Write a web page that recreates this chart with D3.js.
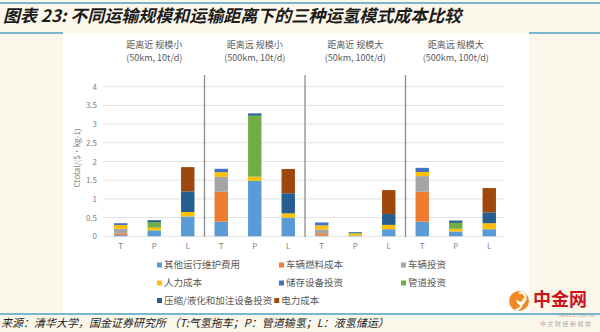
<!DOCTYPE html>
<html><head><meta charset="utf-8">
<script src="https://cdn.jsdelivr.net/npm/d3@7"></script>
<style>
html,body{margin:0;padding:0;background:#fbf7ea;}
svg{display:block;}
text{font-family:"Noto Sans CJK SC","Noto Sans",sans-serif;}
</style></head><body>
<svg id="c" width="600" height="332"></svg>
<script>
// ---------- data ----------
const categories = ["T","P","L","T","P","L","T","P","L","T","P","L"];
const groupTitles = ["距离近 规模小","距离远 规模小","距离近 规模大","距离远 规模大"];
const groupSubs = ["(50km, 10t/d)","(500km, 10t/d)","(50km, 100t/d)","(500km, 100t/d)"];
const seriesNames = ["其他运行维护费用","车辆燃料成本","车辆投资","人力成本","储存设备投资","管道投资","压缩/液化和加注设备投资","电力成本"];
const maintenance = [0.03,0.16,0.53, 0.39,1.48,0.50, 0.02,0.02,0.19, 0.39,0.13,0.19];
const fuel        = [0.05,0,0,       0.80,0,0,       0.06,0,0,       0.80,0,0];
const vehicle     = [0.12,0,0,       0.40,0,0,       0.10,0,0,       0.42,0,0];
const labor       = [0.10,0.07,0.12, 0.125,0.115,0.115, 0.11,0.05,0.115, 0.11,0.07,0.16];
const storage     = [0.05,0,0,       0.09,0,0,       0.08,0,0,       0.11,0,0];
const pipeline    = [0,0.15,0,       0,1.63,0,       0,0.02,0,       0,0.16,0];
const compression = [0,0.05,0.55,    0,0.06,0.535,   0,0.02,0.29,    0,0.06,0.29];
const power       = [0,0,0.65,       0,0,0.65,       0,0,0.64,       0,0,0.65];
const yTicks = [0,0.5,1,1.5,2,2.5,3,3.5,4];
const yTitle = "Ctotal/($·kg-1)";
const chartTitle = "图表 23: 不同运输规模和运输距离下的三种运氢模式成本比较";
const sourceNote = "来源：清华大学，国金证券研究所 （T:气氢拖车；P：管道输氢；L：液氢储运）";

// ---------- style ----------
const palette = ["#5b9bd5","#ed7d31","#a5a5a5","#ffc000","#4472c4","#70ad47","#255e91","#9e480e"];
const seriesValues = [maintenance,fuel,vehicle,labor,storage,pipeline,compression,power];

const svg = d3.select("#c");

// background panel
svg.append("rect").attr("x",63).attr("y",34).attr("width",466).attr("height",279).attr("fill","#ffffff");
// decorative lines
svg.append("line").attr("x1",0).attr("x2",600).attr("y1",3).attr("y2",3).attr("stroke","#4ba3c7").attr("stroke-width",1.6);
svg.append("line").attr("x1",0).attr("x2",63).attr("y1",33).attr("y2",33).attr("stroke","#4ba3c7").attr("stroke-width",1.6);
svg.append("line").attr("x1",529).attr("x2",600).attr("y1",33).attr("y2",33).attr("stroke","#4ba3c7").attr("stroke-width",1.6);
svg.append("line").attr("x1",0).attr("x2",600).attr("y1",314).attr("y2",314).attr("stroke","#4ba3c7").attr("stroke-width",1.6);

// title
svg.append("text").attr("x",3).attr("y",22).attr("font-size",17).attr("font-style","italic")
  .attr("font-weight","bold").attr("fill","#1c1c1c").text(chartTitle);

// scales
const keys = categories.map((c,i)=>i+c);
const x = d3.scaleBand().domain(keys).range([104,506]).paddingInner(0.6).paddingOuter(0.3);
const y = d3.scaleLinear().domain([0,4]).range([236.3,86.7]);

// grid
svg.append("g").selectAll("line").data(yTicks).join("line")
  .attr("x1",103).attr("x2",504).attr("y1",d=>y(d)).attr("y2",d=>y(d))
  .attr("stroke","#d9d9d9").attr("stroke-width",0.8);

// y axis
const yAxis = svg.append("g").attr("transform","translate(103,0)")
  .call(d3.axisLeft(y).tickValues(yTicks).tickSize(0).tickPadding(6).tickFormat(d3.format("")));
yAxis.select(".domain").remove();
yAxis.selectAll("text").attr("font-size",8).attr("fill","#7f7f7f").attr("font-family","'Noto Sans',sans-serif");

svg.append("text").attr("transform","translate(80,158) rotate(-90)").attr("text-anchor","middle")
  .attr("font-size",8).attr("fill","#7f7f7f").attr("font-family","'Noto Sans',sans-serif").text(yTitle);

// x axis
const xAxis = svg.append("g").attr("transform","translate(0,238)")
  .call(d3.axisBottom(x).tickSize(0).tickPadding(5).tickFormat((d,i)=>categories[i]));
xAxis.select(".domain").remove();
xAxis.selectAll("text").attr("font-size",8).attr("fill","#7f7f7f").attr("font-family","'Noto Sans',sans-serif");

// stacked bars
const rows = keys.map((k,i)=>{const r={key:k}; seriesNames.forEach((s,j)=>r[s]=seriesValues[j][i]); return r;});
const stacked = d3.stack().keys(seriesNames)(rows);
svg.append("g").selectAll("g").data(stacked).join("g").attr("fill",(d,i)=>palette[i])
  .selectAll("rect").data(d=>d.filter(p=>p[1]-p[0]>0)).join("rect")
  .attr("x",d=>x(d.data.key)).attr("width",x.bandwidth())
  .attr("y",d=>y(d[1])).attr("height",d=>y(d[0])-y(d[1]));

// group dividers and headers
const step = x.step();
const pad = step*x.paddingOuter();
for(let g=1; g<4; g++){
  const bx = x(keys[g*3]) - pad;
  svg.append("line").attr("x1",bx).attr("x2",bx).attr("y1",75).attr("y2",237)
    .attr("stroke","#8c8c8c").attr("stroke-width",1.3);
}
groupTitles.forEach((t,g)=>{
  const cx = x(keys[g*3+1]) + x.bandwidth()/2;
  svg.append("text").attr("x",cx).attr("y",48).attr("text-anchor","middle").attr("font-size",9)
    .attr("fill","#595959").text(t);
  svg.append("text").attr("x",cx).attr("y",61).attr("text-anchor","middle").attr("font-size",9)
    .attr("fill","#595959").attr("font-family","'Noto Sans',sans-serif").text(groupSubs[g]);
});

// legend
const colX = [157,279,401], rowY = [265,283,300.5];
let lastEnd = 0;
seriesNames.forEach((s,i)=>{
  let lx, ly;
  if(i<6){ lx = colX[i%3]; ly = rowY[Math.floor(i/3)]; }
  else if(i===6){ lx = colX[0]; ly = rowY[2]; }
  else { lx = lastEnd + 2; ly = rowY[2]; }
  const g = svg.append("g");
  g.append("rect").attr("x",lx).attr("y",ly-2.5).attr("width",5).attr("height",5).attr("fill",palette[i]);
  const t = g.append("text").attr("x",lx+7).attr("y",ly).attr("dy","0.35em").attr("font-size",9.5)
    .attr("fill","#595959").text(s);
  lastEnd = lx + 7 + t.node().getComputedTextLength();
});

// source note
svg.append("text").attr("x",1).attr("y",327).attr("font-size",11).attr("font-style","italic")
  .attr("fill","#1c1c1c").text(sourceNote);

// logo
const logo = svg.append("g");
logo.append("circle").attr("cx",519).attr("cy",301).attr("r",10).attr("fill","#f08a24");
logo.append("path").attr("d","M519,293 a5,5 0 1,1 -1,9 a3,3 0 1,0 5,-3 M521,302 q2,6 -5,8")
  .attr("fill","none").attr("stroke","#ffffff").attr("stroke-width",2.2);
logo.append("text").attr("x",533).attr("y",306).attr("font-size",18).attr("font-weight","bold")
  .attr("fill","#c9151e").text("中金网");
logo.append("text").attr("x",594).attr("y",317).attr("text-anchor","end").attr("font-size",4.5)
  .attr("fill","#999").attr("font-family","'Noto Sans',sans-serif").text("CNGOLD.COM.CN");
logo.append("text").attr("x",540).attr("y",326).attr("font-size",6).attr("letter-spacing",1.5)
  .attr("fill","#aaa").text("中文财经新媒体");
</script>
</body></html>
